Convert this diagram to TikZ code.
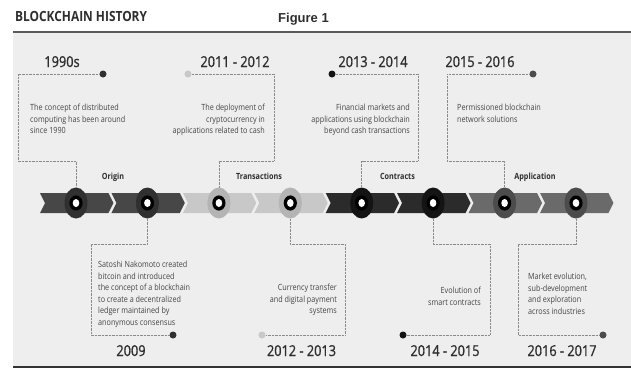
\documentclass[tikz,border=0pt]{standalone}
\usepackage{fontspec}
\setmainfont{Open Sans}[FakeStretch=0.85]
\newfontfamily\yearfont{Open Sans}[FakeStretch=0.85,FakeBold=1]
\newfontfamily\figfont{Liberation Sans}
\usetikzlibrary{shapes.geometric}
\definecolor{panel}{HTML}{EEEEEE}
\definecolor{topline}{HTML}{5A5A5A}
\definecolor{botline}{HTML}{333333}
\definecolor{dotc}{HTML}{8A8A8A}
\definecolor{desc}{HTML}{444444}
\definecolor{yearc}{HTML}{2E2E2E}
\definecolor{chA}{HTML}{474747}
\definecolor{elA}{HTML}{303030}
\definecolor{chB}{HTML}{C8C8C8}
\definecolor{elB}{HTML}{B4B4B4}
\definecolor{chC}{HTML}{2B2B2B}
\definecolor{elC}{HTML}{141414}
\definecolor{chD}{HTML}{6A6A6A}
\definecolor{elD}{HTML}{4C4C4C}
\tikzset{
  bubble/.style={ellipse, minimum width=23pt, minimum height=31pt, inner sep=0pt},
  dotnode/.style={circle, minimum size=7pt, inner sep=0pt},
  dotline/.style={draw=dotc, line width=0.7pt, dash pattern=on 0.7pt off 0.7pt},
  desctext/.style={inner sep=0pt, text=desc, font=\fontsize{8.5}{11.5}\selectfont},
  yeartext/.style={inner sep=0pt, anchor=base, text=yearc, font=\yearfont\fontsize{15}{18}\selectfont},
  phase/.style={inner sep=0pt, anchor=base, text=yearc, font=\bfseries\fontsize{8.5}{10}\selectfont}
}
\begin{document}
\begin{tikzpicture}[x=1pt,y=-1pt]
\useasboundingbox (0,0) rectangle (631,370);
\fill[white] (0,0) rectangle (631,370);
\fill[panel] (13,32) rectangle (631,367);
\draw[topline, line width=1.6pt] (13,32) -- (631,32);
\draw[botline, line width=2.6pt] (13,367) -- (631,367);

\node[anchor=base west, inner sep=0pt, text=yearc, font=\bfseries\fontsize{14}{16}\selectfont] (title) at (15,21.7) {BLOCKCHAIN HISTORY};
\node[anchor=base west, inner sep=0pt, text=yearc, font=\figfont\bfseries\fontsize{13}{15}\selectfont] (fig) at (278,22.5) {Figure 1};

% chevrons
\foreach \c/\col in {76/chA,147.4/chA,218.9/chB,290.3/chB,361.7/chC,433.1/chC,504.6/chD,576/chD}{
  \fill[\col] ({\c-36},193) -- ({\c+32.4},193) -- ({\c+37.4},203) -- ({\c+32.4},213) -- ({\c-36},213) -- ({\c-31},203) -- cycle;
}
% bubbles
\foreach \i/\c/\col in {1/76/elA,2/147.4/elA,3/218.9/elB,4/290.3/elB,5/361.7/elC,6/433.1/elC,7/504.6/elD,8/576/elD}{
  \node[bubble, fill=\col] (c\i) at (\c,203) {};
  \fill[black] (c\i.center) ellipse [x radius=6.6pt, y radius=7.6pt];
  \fill[white] (c\i.center) ellipse [x radius=3.3pt, y radius=4pt];
}

% phase labels
\node[phase] (l1) at (113,179) {Origin};
\node[phase] (l2) at (259,179) {Transactions};
\node[phase] (l3) at (397.5,179) {Contracts};
\node[phase] (l4) at (535,179) {Application};

% top dots
\node[dotnode, fill=elA] (d1) at (103,74) {};
\node[dotnode, fill=chB] (d2) at (188,74) {};
\node[dotnode, fill=elC] (d3) at (332,74) {};
\node[dotnode, fill=elD] (d4) at (533,74) {};
% bottom dots
\node[dotnode, fill=elA] (d5) at (173,335) {};
\node[dotnode, fill=chB] (d6) at (262,335) {};
\node[dotnode, fill=elC] (d7) at (403,335) {};
\node[dotnode, fill=elD] (d8) at (603,335) {};

% dotted frames
\draw[dotline] (d1.west) -| (18,161) -| (c1.north);
\draw[dotline] (d2.east) -| (274,161) -| (c3.north);
\draw[dotline] (d3.east) -| (418,161) -| (c5.north);
\draw[dotline] (d4.west) -| (447,161) -| (c7.north);
\draw[dotline] (c2.south) |- (91,244) |- (d5.west);
\draw[dotline] (c4.south) |- (345,244) |- (d6.east);
\draw[dotline] (c6.south) |- (490,244) |- (d7.east);
\draw[dotline] (c8.south) |- (518,244) |- (d8.west);

% years
\node[yeartext] (y1) at (62,67) {1990s};
\node[yeartext] (y2) at (235,67) {2011 - 2012};
\node[yeartext] (y3) at (373,67) {2013 - 2014};
\node[yeartext] (y4) at (480,67) {2015 - 2016};
\node[yeartext] (y5) at (131,356) {2009};
\node[yeartext] (y6) at (301.5,356) {2012 - 2013};
\node[yeartext] (y7) at (445,356) {2014 - 2015};
\node[yeartext] (y8) at (562,356) {2016 - 2017};

% descriptions
\node[desctext, anchor=north west, align=left] (t1) at (30,104) {The concept of distributed\\computing has been around\\since 1990};
\node[desctext, anchor=north east, align=right] (t2) at (265,104) {The deployment of\\cryptocurrency in\\applications related to cash};
\node[desctext, anchor=north east, align=right] (t3) at (410,104) {Financial markets and\\applications using blockchain\\beyond cash transactions};
\node[desctext, anchor=north west, align=left] (t4) at (457,104) {Permissioned blockchain\\network solutions};
\node[desctext, anchor=north west, align=left] (t5) at (98,261) {Satoshi Nakomoto created\\bitcoin and introduced\\the concept of a blockchain\\to create a decentralized\\ledger maintained by\\anonymous consensus};
\node[desctext, anchor=north east, align=right] (t6) at (337,284) {Currency transfer\\and digital payment\\systems};
\node[desctext, anchor=north east, align=right] (t7) at (481,287) {Evolution of\\smart contracts};
\node[desctext, anchor=north west, align=left] (t8) at (528,273) {Market evolution,\\sub-development\\and exploration\\across industries};
\end{tikzpicture}
\end{document}
